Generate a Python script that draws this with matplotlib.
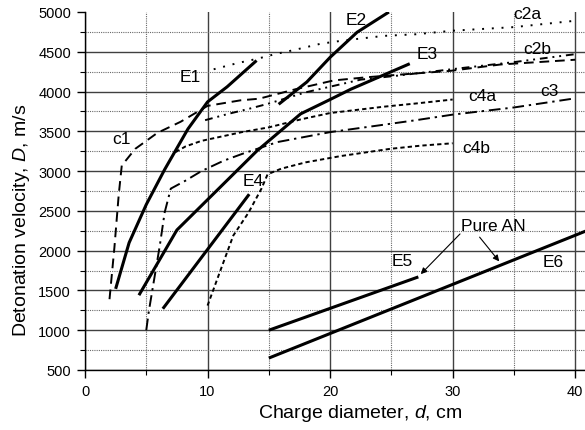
import matplotlib
matplotlib.use('Agg')
import matplotlib.pyplot as plt
from matplotlib.ticker import MultipleLocator

plt.rcParams['font.family'] = ['Liberation Sans', 'DejaVu Sans']
plt.rcParams['mathtext.fontset'] = 'custom'
plt.rcParams['mathtext.rm'] = 'Liberation Sans'
plt.rcParams['mathtext.it'] = 'Liberation Sans:italic'

# computed curves (charge diameter in cm, detonation velocity in m/s)
c1_d = [2.0, 2.4, 2.75, 3.0, 4.1, 5.9, 7.8, 10.0, 12.7, 14.2, 17.2, 20.3, 23.0, 26.3, 29.8, 33.9, 40.0]
c1_D = [1390, 2040, 2700, 3070, 3280, 3480, 3620, 3820, 3890, 3910, 4030, 4140, 4180, 4220, 4260, 4340, 4400]
c2a_d = [10.5, 12.5, 14.0, 15.5, 17.0, 19.2, 21.0, 24.4, 27.0, 30.0, 35.0, 40.0]
c2a_D = [4280, 4360, 4410, 4470, 4520, 4600, 4640, 4700, 4720, 4765, 4810, 4890]
c2b_d = [9.8, 11.7, 13.3, 14.9, 18.0, 22.5, 25.5, 31.0, 35.0, 40.0]
c2b_D = [3640, 3720, 3780, 3845, 3990, 4150, 4200, 4300, 4370, 4470]
c3_d = [5.0, 5.2, 5.6, 6.1, 6.5, 7.0, 8.2, 9.5, 11.3, 12.8, 15.7, 20.0, 24.0, 27.0, 30.0, 35.0, 40.0]
c3_D = [1000, 1230, 1600, 2060, 2480, 2780, 2880, 3000, 3130, 3215, 3365, 3490, 3575, 3640, 3710, 3800, 3915]
c4a_d = [7.4, 8.2, 9.5, 11.0, 12.8, 15.0, 17.6, 20.0, 24.4, 27.0, 30.0]
c4a_D = [3240, 3310, 3380, 3430, 3490, 3550, 3650, 3730, 3810, 3850, 3900]
c4b_d = [10.0, 11.0, 12.1, 13.35, 14.4, 14.9, 16.0, 18.0, 20.9, 24.9, 27.4, 30.0]
c4b_D = [1310, 1730, 2190, 2480, 2780, 2960, 3030, 3110, 3190, 3280, 3320, 3350]

# experimental series
E1_d = [2.5, 3.6, 5.0, 6.5, 8.4, 10.0, 11.6, 14.0]
E1_D = [1520, 2100, 2580, 3020, 3530, 3870, 4060, 4390]
E2_d = [15.8, 18.1, 20.0, 22.2, 24.8]
E2_D = [3840, 4120, 4430, 4745, 5000]
E3_d = [4.4, 7.5, 14.0, 17.6, 20.0, 21.7, 26.5]
E3_D = [1440, 2260, 3250, 3720, 3900, 4030, 4350]
E4_d = [6.35, 13.4]
E4_D = [1270, 2710]
E5_d = [15.0, 27.2]
E5_D = [1000, 1670]
E6_d = [15.0, 41.0]
E6_D = [650, 2255]

curve_labels = {'c1': (3.0, 3410), 'c2a': (36.1, 4975), 'c2b': (36.9, 4545),
                'c3': (37.9, 4010), 'c4a': (32.4, 3950), 'c4b': (31.9, 3300),
                'E1': (8.6, 4185), 'E2': (22.1, 4905), 'E3': (27.9, 4475),
                'E4': (13.7, 2880), 'E5': (25.9, 1875), 'E6': (38.2, 1860)}

fig = plt.figure(figsize=(5.85, 4.31), dpi=100)
ax = fig.add_axes([85 / 585, 60 / 431, 500 / 585, 358 / 431])

ax.set_xlim(0, 40.8)
ax.set_ylim(500, 5000)
ax.xaxis.set_major_locator(MultipleLocator(10))
ax.xaxis.set_minor_locator(MultipleLocator(5))
ax.yaxis.set_major_locator(MultipleLocator(500))
ax.yaxis.set_minor_locator(MultipleLocator(250))

ax.grid(True, which='major', color='#404040', lw=1.0, ls='-')
ax.grid(True, which='minor', color='#6a6a6a', lw=0.8, ls=(0, (1, 1)))
ax.set_axisbelow(True)
for t, loc in zip(ax.yaxis.get_major_ticks(), ax.yaxis.get_majorticklocs()):
    if loc >= 5000:
        t.gridline.set_visible(False)

ax.spines['top'].set_visible(False)
ax.spines['right'].set_visible(False)
for s in ('left', 'bottom'):
    ax.spines[s].set_linewidth(1.0)
    ax.spines[s].set_color('k')

ax.tick_params(which='major', direction='out', length=6, width=1, labelsize=10.5, pad=4)
ax.tick_params(which='minor', direction='out', length=3.5, width=0.8)

lw_c = 1.4
ax.plot(c1_d, c1_D, color='k', lw=lw_c, dashes=(5, 3))
ax.plot(c2a_d, c2a_D, color='k', lw=lw_c, dashes=(1, 4))
ax.plot(c2b_d, c2b_D, color='k', lw=lw_c, dashes=(4, 2.5, 1, 2.5, 1, 2.5))
ax.plot(c3_d, c3_D, color='k', lw=lw_c, dashes=(6, 2.5, 1.2, 2.5))
ax.plot(c4a_d, c4a_D, color='k', lw=lw_c, dashes=(2.2, 1.6))
ax.plot(c4b_d, c4b_D, color='k', lw=lw_c, dashes=(2.2, 1.6))

for d, D in [(E1_d, E1_D), (E2_d, E2_D), (E3_d, E3_D), (E4_d, E4_D), (E5_d, E5_D), (E6_d, E6_D)]:
    ax.plot(d, D, color='k', lw=2.2, solid_capstyle='butt')

for name, (x, y) in curve_labels.items():
    ax.text(x, y, name, fontsize=12.5, ha='center', va='center')

# "Pure AN" pointers to E5 and E6
ax.text(33.3, 2315, 'Pure AN', fontsize=12.5, ha='center', va='center')
arrow = dict(arrowstyle='-|>', color='k', lw=0.8, mutation_scale=9, shrinkA=0, shrinkB=0)
ax.annotate('', xy=(27.4, 1705), xytext=(30.6, 2210), arrowprops=arrow)
ax.annotate('', xy=(33.8, 1865), xytext=(32.2, 2170), arrowprops=arrow)

ax.set_xlabel('Charge diameter, $\\it{d}$, cm', fontsize=14)
ax.set_ylabel('Detonation velocity, $\\it{D}$, m/s', fontsize=14)
ax.xaxis.set_label_coords(0.55, -0.09)
ax.yaxis.set_label_coords(-0.105, 0.42)

fig.savefig('out.png', dpi=100)
